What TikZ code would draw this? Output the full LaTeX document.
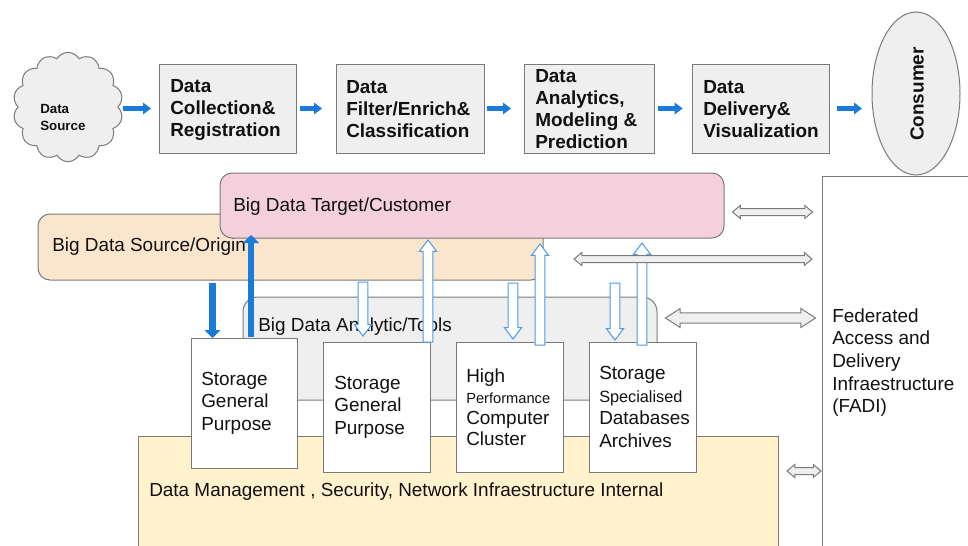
\documentclass[tikz,border=0pt]{standalone}
\usepackage{fontspec}
\setmainfont{Liberation Sans}
\usetikzlibrary{shapes.geometric,shapes.symbols,shapes.arrows,arrows.meta,fit}

\definecolor{boxgrey}{HTML}{EFEFEF}
\definecolor{edgegrey}{HTML}{7A7A7A}
\definecolor{pinkfill}{HTML}{F4D0DC}
\definecolor{peach}{HTML}{FCE5CD}
\definecolor{cream}{HTML}{FFF2CC}
\definecolor{flowblue}{HTML}{1A7BD8}
\definecolor{lightblue}{HTML}{4A9BEA}
\definecolor{ink}{HTML}{111111}

\tikzset{
  base/.style={inner sep=0pt, outer sep=0pt, line width=0.75pt, draw=edgegrey},
  stepbox/.style={base, fill=boxgrey, fit={#1}},
  layer/.style={base, rounded corners=9pt, fit={#1}},
  whitebox/.style={base, fill=white, fit={#1}},
  steptext/.style={inner sep=0pt, anchor=west, align=left, text=ink,
    font=\fontsize{14.2}{16.5}\selectfont\bfseries},
  bodytext/.style={inner sep=0pt, anchor=west, align=left, text=ink,
    font=\fontsize{14.2}{16.9}\selectfont},
  flowarr/.style={draw=flowblue, line width=3.75pt,
    -{Triangle[length=6pt,width=8.5pt]}},
  thickarr/.style={draw=flowblue, line width=#1,
    -{Triangle[length=6pt,width=12pt]}},
  hollowarr/.style={single arrow, draw=lightblue, fill=white, line width=0.75pt,
    inner xsep=0pt, inner ysep=3.3pt, outer sep=0pt,
    single arrow head extend=2.8pt, single arrow tip angle=74,
    minimum height=#1},
  linkarr/.style={double arrow, draw=edgegrey, fill=boxgrey, line width=0.75pt,
    inner xsep=0pt, inner ysep=2.25pt, outer sep=0pt,
    double arrow head extend=2.25pt, double arrow tip angle=80,
    minimum height=#1},
}

\begin{document}
\begin{tikzpicture}[x=0.75pt,y=-0.75pt]
\useasboundingbox (0,0) rectangle (968,546);
\begin{scope}
\clip (0,0) rectangle (968,546);

% ---- processing chain ----
\node[cloud, cloud puffs=14, cloud puff arc=120, aspect=1, draw=edgegrey,
      fill=boxgrey, line width=0.75pt, inner sep=0pt,
      minimum width=82.5pt, minimum height=82pt] (src) at (68,107) {};
\node[inner sep=0pt, anchor=west, align=left, text=ink,
      font=\fontsize{10}{12.75}\selectfont\bfseries] at (40,117) {Data\\Source};

\node[stepbox={(159,64) (296,153)}] (b1) {};
\node[stepbox={(336,64) (484,153)}] (b2) {};
\node[stepbox={(524,64) (654,153)}] (b3) {};
\node[stepbox={(692,64) (829,153)}] (b4) {};
\node[steptext] at (170,109.5) {Data\\Collection\&\\Registration};
\node[steptext] at (346,109.5) {Data\\Filter/Enrich\&\\Classification};
\node[steptext] at (535,109.5) {Data\\Analytics,\\Modeling \&\\Prediction};
\node[steptext] at (703,109.5) {Data\\Delivery\&\\Visualization};

\node[ellipse, base, fill=boxgrey, minimum width=66pt, minimum height=122.25pt]
  (cons) at (916,93.5) {};
\node[inner sep=0pt, rotate=90, text=ink,
      font=\fontsize{14.2}{16.5}\selectfont\bfseries] at (917,94) {Consumer};

\draw[flowarr, shorten <=3pt, shorten >=6pt] (src.east |- b1.west) -- (b1.west);
\draw[flowarr, shorten <=3pt, shorten >=10.5pt] (b1.east) -- (b2.west);
\draw[flowarr, shorten <=2.25pt, shorten >=9.75pt] (b2.east) -- (b3.west);
\draw[flowarr, shorten <=3pt, shorten >=7pt] (b3.east) -- (b4.west);
\draw[flowarr, shorten <=6pt, shorten >=7.5pt] (b4.east) -- (cons.west |- b4.east);

% ---- layered architecture ----
\node[layer={(38,214) (543,280)}, fill=peach] (origin) {};
\node[bodytext] at (52,247) {Big Data Source/Origin};
\node[layer={(220,173) (724,238)}, fill=pinkfill] (target) {};
\node[bodytext] at (233,207) {Big Data Target/Customer};
\node[base, fill=boxgrey, rounded corners=11pt, fit={(243,297) (657,400)}] (tools) {};
\node[bodytext] at (258,327) {Big Data Analytic/Tools};
\node[base, fill=cream, fit={(138,436) (778,560)}] (infra) {};
\node[bodytext] at (149,492) {Data Management , Security, Network Infraestructure Internal};

\node[whitebox={(191,338) (297,468)}] (st1) {};
\node[whitebox={(323,342) (430,472)}] (st2) {};
\node[whitebox={(456,342) (563,472)}] (hpc) {};
\node[whitebox={(589,342) (696,472)}] (st4) {};
\node[bodytext] at (201,403) {Storage\\General\\Purpose};
\node[bodytext] at (334,407) {Storage\\General\\Purpose};
\node[bodytext, font=\fontsize{14.2}{15.75}\selectfont] at (466,407)
  {High\\{\fontsize{11}{13}\selectfont Performance}\\Computer\\Cluster};
\node[bodytext, font=\fontsize{14.2}{17}\selectfont] at (599,407)
  {Storage\\{\fontsize{12.2}{14}\selectfont Specialised}\\Databases\\Archives};

\node[base, fill=white, fit={(822,176) (990,570)}] (fadi) {};
\node[bodytext, font=\fontsize{14.2}{17}\selectfont] at (832,362.5)
  {Federated\\Access and\\Delivery\\Infraestructure\\(FADI)};

% ---- data movement between layers ----
\draw[thickarr=5.25pt, shorten <=2.25pt] (212.5,0 |- origin.south) -- (212.5,0 |- st1.north);
\draw[thickarr=4.5pt, shorten <=0.75pt, shorten >=-2.25pt] (251,0 |- st1.north) -- (251,0 |- target.south);

\node[hollowarr=40.5pt, rotate=-90, anchor=tail] (h1) at (363,282) {};
\node[hollowarr=76.5pt, rotate=90, anchor=tail] (h2) at (428,342) {};
\node[hollowarr=42pt, rotate=-90, anchor=tail] (h3) at (513,283) {};
\node[hollowarr=75.75pt, rotate=90, anchor=tail] (h4) at (540,345) {};
\node[hollowarr=42.75pt, rotate=-90, anchor=tail] (h5) at (615,283) {};
\node[hollowarr=76.5pt, rotate=90, anchor=tail] (h6) at (642,345) {};

% ---- federated access links ----
\node[linkarr=60pt] (l1) at (772.5,212) {};
\node[linkarr=178.5pt] (l2) at (693,259) {};
\node[linkarr=112.5pt, inner ysep=3.4pt, double arrow head extend=3.4pt,
      double arrow tip angle=66] (l3) at (740.5,318) {};
\node[linkarr=25.5pt] (l4) at (804,471) {};
\end{scope}
\end{tikzpicture}
\end{document}
